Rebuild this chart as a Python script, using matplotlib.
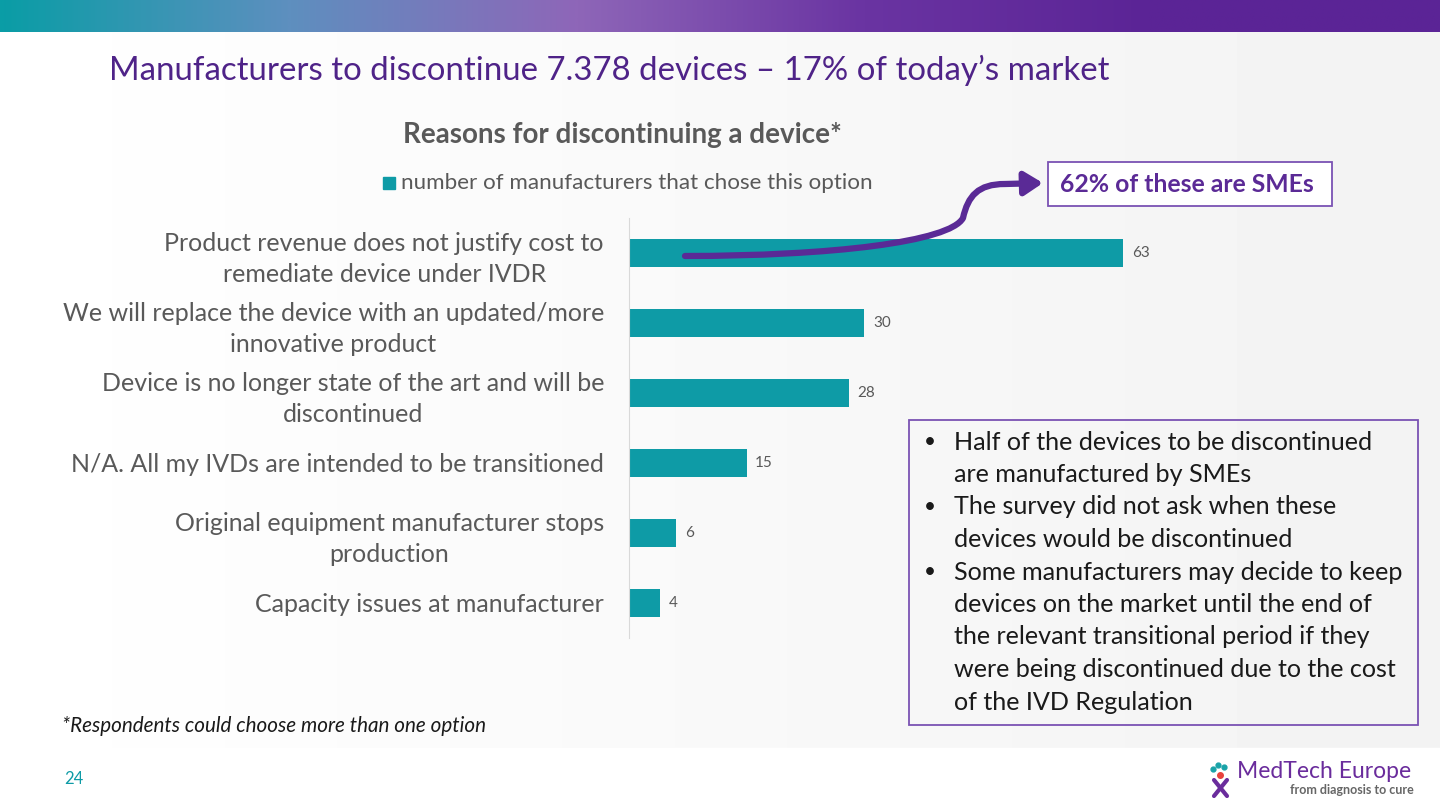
import numpy as np
import matplotlib.pyplot as plt
from matplotlib.patches import Rectangle, FancyArrowPatch
from matplotlib.path import Path
from matplotlib.colors import LinearSegmentedColormap

plt.rcParams['font.family'] = ['Lato', 'DejaVu Sans']

# data
categories = [
    "Product revenue does not justify cost to\nremediate device under IVDR",
    "We will replace the device with an updated/more\ninnovative product",
    "Device is no longer state of the art and will be\ndiscontinued",
    "N/A. All my IVDs are intended to be transitioned",
    "Original equipment manufacturer stops\nproduction",
    "Capacity issues at manufacturer",
]
values = [63, 30, 28, 15, 6, 4]
legend_label = "number of manufacturers that chose this option"
title = "Manufacturers to discontinue 7.378 devices \u2013 17% of today\u2019s market"
subtitle = "Reasons for discontinuing a device*"
callout = "62% of these are SMEs"
bullets = [
    ["Half of the devices to be discontinued", "are manufactured by SMEs"],
    ["The survey did not ask when these", "devices would be discontinued"],
    ["Some manufacturers may decide to keep",
     "devices on the market until the end of",
     "the relevant transitional period if they",
     "were being discontinued due to the cost",
     "of the IVD Regulation"],
]
footnote = "*Respondents could choose more than one option"
page_no = "24"

W, H = 1440, 809
TEAL = "#0e9ba6"
PURPLE = "#5a2a96"
GRAY = "#595959"


def fx(x):
    return x / W


def fy(y):
    return 1 - y / H


fig = plt.figure(figsize=(W / 100, H / 100), dpi=100)

# slide background: soft gray wash, white footer
bg = fig.add_axes([0, 0, 1, 1], zorder=-10)
grad = np.linspace(1.0, 0.95, 256)[None, :]
bg.imshow(np.repeat(grad, 2, axis=0), cmap="gray", vmin=0, vmax=1,
          aspect="auto", extent=[0, 1, 0, 1])
bg.add_patch(Rectangle((0, 0), 1, fy(748), color="white"))
# top gradient band
band = np.linspace(0, 1, 512)[None, :]
band_cmap = LinearSegmentedColormap.from_list(
    "band", ["#0a9da6", "#5e8fbf", "#8e66b8", "#6a34a2", "#5b2496", "#5b2496"])
bg.imshow(band, cmap=band_cmap, aspect="auto", extent=[0, 1, fy(32), 1])
# logo icon
bg.plot([fx(1214), fx(1227)], [fy(780), fy(796)], color="#6a2c9c", lw=3, solid_capstyle="round")
bg.plot([fx(1227), fx(1214)], [fy(780), fy(796)], color="#6a2c9c", lw=3, solid_capstyle="round")
bg.plot([fx(1220)], [fy(775)], "o", color="#e8423c", ms=4)
bg.plot([fx(1213), fx(1218), fx(1224)], [fy(769), fy(765), fy(767)], "o", color="#1aa3a8", ms=3.5)
bg.set_xlim(0, 1)
bg.set_ylim(0, 1)
bg.axis("off")

# bar chart
ax_l, ax_r, ax_t, ax_b = 629, 1178, 218, 638
ax = fig.add_axes([fx(ax_l), fy(ax_b), fx(ax_r - ax_l), (ax_b - ax_t) / H])
ax.patch.set_alpha(0)
y = np.arange(len(values))
ax.barh(y, values, height=0.39, color=TEAL)
ax.set_xlim(0, 70)
ax.set_ylim(len(values) - 0.5, -0.5)
ax.set_yticks(y)
ax.set_yticklabels(categories, fontsize=18, color=GRAY, multialignment="center",
                   linespacing=1.4)
ax.tick_params(axis="y", length=0, pad=18)
ax.set_xticks([])
for s in ["top", "right", "bottom"]:
    ax.spines[s].set_visible(False)
ax.spines["left"].set_color("#d9d9d9")
for yi, v in zip(y, values):
    ax.text(v + 1.1, yi, str(v), va="center", ha="left", fontsize=11, color=GRAY)

# titles and legend
fig.text(fx(109), fy(70), title, fontsize=23.8, color="#4f2388", va="center", ha="left")
fig.text(fx(622), fy(135), subtitle, fontsize=20, color=GRAY, fontweight="bold",
         va="center", ha="center")
fig.patches.append(Rectangle((fx(383), fy(189)), fx(12), 12 / H, color=TEAL,
                             transform=fig.transFigure))
fig.text(fx(401), fy(183), legend_label, fontsize=16.1, color=GRAY, va="center", ha="left")

# callout box and arrow
fig.patches.append(Rectangle((fx(1048), fy(206)), fx(1332 - 1048), 44 / H,
                             facecolor="white", edgecolor="#7a52b3", linewidth=1.3,
                             transform=fig.transFigure))
fig.text(fx(1187), fy(184), callout, fontsize=17.8, color="#5b2a96", fontweight="bold",
         va="center", ha="center")
verts = [(685, 256), (830, 256), (950, 242), (963, 218),
         (968, 196), (978, 184), (1005, 184), (1043, 183)]
codes = [Path.MOVETO, Path.CURVE4, Path.CURVE4, Path.CURVE4,
         Path.CURVE4, Path.CURVE4, Path.CURVE4, Path.LINETO]
arrow_path = Path([(fx(a), fy(b)) for a, b in verts], codes)
fig.patches.append(FancyArrowPatch(path=arrow_path, arrowstyle="-|>,head_length=11,head_width=7",
                                   color=PURPLE, linewidth=4.5, transform=fig.transFigure,
                                   mutation_scale=1))

# bullet box
fig.patches.append(Rectangle((fx(909), fy(725)), fx(1418 - 909), (725 - 420) / H,
                             facecolor="none", edgecolor="#7a52b3", linewidth=1.3,
                             transform=fig.transFigure))
line_y = 442
for block in bullets:
    fig.text(fx(924), fy(line_y), "\u2022", fontsize=15, color="#1a1a1a", va="center", ha="left")
    for line in block:
        fig.text(fx(954), fy(line_y), line, fontsize=18.1, color="#1a1a1a",
                 va="center", ha="left")
        line_y += 32.5

# footer
fig.text(fx(62), fy(726), footnote, fontsize=14.9, style="italic", color="#1a1a1a",
         va="center", ha="left")
fig.text(fx(64), fy(779), page_no, fontsize=12, color=TEAL, va="center", ha="left")

# logo text
fig.text(fx(1237), fy(772), "MedTech Europe", fontsize=16.5, color="#6a2c9c",
         va="center", ha="left")
fig.text(fx(1414), fy(790), "from diagnosis to cure", fontsize=9, color="#666666",
         fontweight="bold", va="center", ha="right")

fig.savefig("out.png", dpi=100)
